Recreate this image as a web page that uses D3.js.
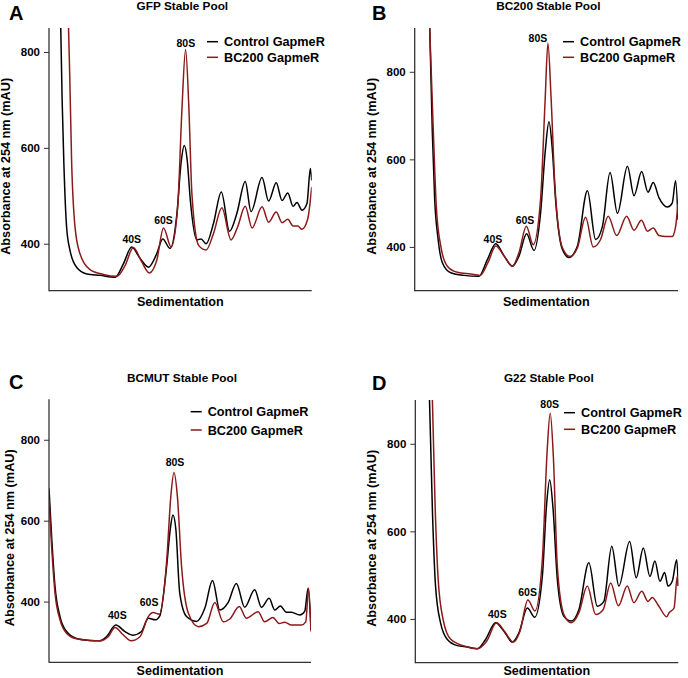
<!DOCTYPE html>
<html>
<head>
<meta charset="utf-8">
<script src="https://cdn.jsdelivr.net/npm/d3@7"></script>
<style>
  html, body { margin: 0; padding: 0; background: #fff; }
  svg { display: block; font-family: "Liberation Sans", Arial, sans-serif; font-weight: bold; }
</style>
</head>
<body>
<svg id="chart" width="688" height="678"></svg>
<script>
// ---------------- DATA (x = sedimentation position, % of gradient; y = absorbance, mAU) ----------------
const yTicks = [400, 600, 800];
const seriesNames = ["Control GapmeR", "BC200 GapmeR"];
const panelTitles = ["GFP Stable Pool", "BC200 Stable Pool", "BCMUT Stable Pool", "G22 Stable Pool"];
const panelLetters = ["A", "B", "C", "D"];
const peakNames = ["40S", "60S", "80S"];

const gfpControl = [[4.3,900],[5.0,700],[5.7,560],[6.7,435],[8.0,386],[10.5,351],[14.4,337],[19.4,334],[25.2,330],[28.3,358],[31.5,393],[34.7,369],[37.9,351],[41.0,379],[43.3,410],[46.1,390],[48.7,463],[50.3,570],[51.5,605],[52.6,575],[53.8,491],[56.3,408],[57.9,410],[59.8,400],[62.6,442],[65.6,508],[68.7,426],[71.5,463],[74.7,530],[76.9,467],[81.1,538],[83.6,489],[86.5,527],[88.7,490],[90.9,506],[92.9,478],[94.4,486],[96.3,470],[98.2,484],[99.5,557],[100,532]];
const gfpBC200 = [[7.2,900],[7.9,750],[8.6,574],[9.9,435],[11.8,379],[15.6,346],[20.7,336],[25.8,332],[29.0,355],[32.1,392],[35.3,362],[38.2,339],[41.0,365],[43.6,433],[46.5,393],[49.0,477],[50.6,680],[52.0,805],[53.2,690],[54.4,504],[57.0,396],[59.8,387],[62.6,421],[65.8,475],[69.3,408],[71.8,435],[74.7,478],[77.3,433],[81.1,477],[83.6,445],[86.5,466],[88.7,444],[90.9,451],[92.9,437],[94.7,437],[96.3,430],[98.5,452],[100,518]];
const gfpPeakLabels = [[31.5,409],[43.6,449],[52.1,818]];

const bc200Control = [[5.7,900],[6.7,660],[7.6,508],[8.9,417],[10.5,364],[13.7,341],[18.7,335],[24.4,333],[27.6,371],[30.8,407],[34.0,379],[37.1,356],[39.6,379],[42.5,430],[45.3,392],[47.8,477],[49.6,620],[51.0,686],[52.3,620],[53.5,508],[56.1,394],[58.6,376],[61.8,402],[65.6,528],[68.7,417],[71.3,447],[74.2,570],[77.0,477],[80.8,584],[83.3,517],[86.2,572],[88.6,525],[90.6,547],[92.8,512],[96.0,491],[97.8,500],[99.1,551],[100,462]];
const bc200BC200 = [[5.7,900],[7.1,660],[8.2,493],[9.9,402],[12.4,356],[16.2,342],[21.3,338],[24.8,335],[27.8,364],[30.8,402],[34.0,379],[37.1,356],[39.6,387],[42.4,447],[45.0,405],[47.8,508],[49.5,730],[50.6,865],[51.8,740],[53.2,546],[56.1,398],[59.0,378],[61.8,398],[64.9,468],[67.8,400],[70.6,417],[73.5,470],[76.7,426],[80.5,470],[83.3,438],[86.1,461],[88.4,436],[90.6,443],[92.8,426],[95.3,424],[97.8,424],[99.1,447],[100,500]];
const bc200PeakLabels = [[29.7,418],[41.9,461],[46.8,876]];

const bcmutControl = [[0,680],[1.0,561],[2.3,437],[4.2,363],[6.7,326],[10.5,309],[15.6,304],[19.4,303],[21.9,313],[25.5,342],[29.0,326],[32.1,317],[35.3,326],[37.9,359],[40.5,355],[42.3,365],[44.9,487],[46.3,580],[47.3,614],[48.4,580],[49.9,421],[52.5,363],[56.3,351],[59.5,384],[62.4,452],[65.2,379],[68.4,398],[71.5,445],[74.7,386],[78.5,429],[81.1,386],[84.0,408],[86.2,379],[88.3,389],[90.6,374],[92.5,374],[95.7,367],[97.6,376],[98.9,433],[100,330]];
const bcmutBC200 = [[0,651],[1.0,536],[2.3,421],[4.2,355],[6.7,322],[10.5,308],[15.6,304],[19.4,303],[22.6,313],[25.2,336],[28.3,318],[31.3,303],[34.7,313],[37.9,363],[39.8,373],[42.1,369],[44.9,499],[46.5,660],[47.7,719],[49.0,660],[50.6,487],[53.2,371],[57.0,338],[60.2,346],[63.3,398],[66.5,350],[69.0,357],[72.6,388],[75.3,359],[79.8,375],[82.3,350],[85.5,361],[87.8,346],[90.0,349],[92.5,342],[96.3,342],[98.0,350],[99.1,433],[100,326]];
const bcmutPeakLabels = [[26.1,367],[38.2,398],[48.1,745]];

const g22Control = [[5.4,900],[6.5,649],[7.7,475],[9.6,391],[12.2,353],[16.0,339],[19.8,336],[23.6,332],[26.7,353],[30.5,391],[33.7,372],[36.9,347],[39.4,368],[42.6,425],[45.4,404],[48.3,497],[49.9,660],[51.1,718],[52.4,650],[54.0,490],[56.5,406],[59.3,395],[62.2,421],[66.0,528],[69.2,429],[71.7,440],[74.7,566],[77.4,475],[81.5,577],[84.0,494],[86.7,562],[89.2,497],[91.1,532],[93.0,486],[94.8,506],[96.1,475],[97.7,486],[99.4,535],[100,475]];
const g22BC200 = [[6.5,900],[7.5,665],[8.7,490],[10.6,398],[13.4,354],[18.5,338],[23.6,332],[27.1,349],[30.9,391],[34.1,370],[37.3,347],[39.8,372],[42.8,443],[45.5,418],[48.3,535],[50.1,780],[51.3,870],[52.5,770],[54.0,520],[56.5,410],[59.3,391],[62.2,414],[65.4,475],[68.6,410],[71.4,421],[74.3,482],[77.2,430],[80.6,475],[83.1,437],[86.1,463],[88.5,440],[90.1,449],[92.6,429],[95.6,405],[96.5,414],[98.4,425],[99.6,497],[100,475]];
const g22PeakLabels = [[31.2,410],[42.7,462],[51.1,891]];

const yDomains = [[302, 850], [300, 900], [250, 900], [300, 900]];

// ---------------- LAYOUT ----------------
const colors = ["#000000", "#8B1A1A"];
const panels = [
  { ctrl: gfpControl,   bc: gfpBC200,   peaks: gfpPeakLabels,   box: {l: 49,    r: 311.7, t: 28,    b: 290.7}, legend: {x: 207, y: 41.7, dy: 15.6}, titleY: 10,  letterX: 9,   letterY: 19.5, yTitleX: 10,  xTitleY: 306 },
  { ctrl: bc200Control, bc: bc200BC200, peaks: bc200PeakLabels, box: {l: 414.7, r: 678,   t: 28,    b: 290.7}, legend: {x: 563, y: 41.7, dy: 15.6}, titleY: 10,  letterX: 372, letterY: 19.5, yTitleX: 376, xTitleY: 306 },
  { ctrl: bcmutControl, bc: bcmutBC200, peaks: bcmutPeakLabels, box: {l: 49,    r: 311,   t: 399.3, b: 662.3}, legend: {x: 190.7, y: 411.7, dy: 18.3}, titleY: 382, letterX: 9,   letterY: 388.5, yTitleX: 14,  xTitleY: 675 },
  { ctrl: g22Control,   bc: g22BC200,   peaks: g22PeakLabels,   box: {l: 415.3, r: 678.3, t: 400,   b: 662.7}, legend: {x: 564, y: 412.7, dy: 16.6}, titleY: 382, letterX: 372, letterY: 389.5, yTitleX: 376, xTitleY: 675 }
];

const svg = d3.select("#chart");

panels.forEach((p, i) => {
  const x = d3.scaleLinear().domain([0, 100]).range([p.box.l, p.box.r]);
  const y = d3.scaleLinear().domain(yDomains[i]).range([p.box.b, p.box.t]);
  const g = svg.append("g");

  const clipId = "clip" + i;
  svg.append("clipPath").attr("id", clipId)
    .append("rect")
    .attr("x", p.box.l).attr("y", p.box.t)
    .attr("width", p.box.r - p.box.l).attr("height", p.box.b - p.box.t);

  const line = d3.line().x(d => x(d[0])).y(d => y(d[1])).curve(d3.curveMonotoneX);

  // curves: control first, BC200 on top
  [p.ctrl, p.bc].forEach((data, k) => {
    g.append("path")
      .attr("d", line(data))
      .attr("fill", "none")
      .attr("stroke", colors[k])
      .attr("stroke-width", 1.5)
      .attr("stroke-linejoin", "round")
      .attr("clip-path", `url(#${clipId})`);
  });

  // axes
  const yAxis = d3.axisLeft(y).tickValues(yTicks).tickSize(5).tickPadding(4).tickFormat(d3.format("d"));
  const ya = g.append("g").attr("transform", `translate(${p.box.l},0)`).call(yAxis);
  ya.select(".domain").remove();
  ya.selectAll(".tick line").attr("stroke", "#333").attr("stroke-width", 1);
  ya.selectAll(".tick text").attr("fill", "#000").style("font-size", "11.5px").style("font-weight", "bold")
    .style("font-family", "'Liberation Sans', Arial, sans-serif");

  g.append("line").attr("x1", p.box.l).attr("x2", p.box.l).attr("y1", p.box.t).attr("y2", p.box.b + 0.5)
    .attr("stroke", "#333").attr("stroke-width", 1.3);
  g.append("line").attr("x1", p.box.l).attr("x2", p.box.r).attr("y1", p.box.b).attr("y2", p.box.b)
    .attr("stroke", "#333").attr("stroke-width", 1.3);

  // axis titles
  g.append("text")
    .attr("transform", `translate(${p.yTitleX},${(p.box.t + p.box.b) / 2 + 7}) rotate(-90)`)
    .attr("text-anchor", "middle")
    .style("font-size", "12.7px")
    .text("Absorbance at 254 nm (mAU)");
  g.append("text")
    .attr("x", (p.box.l + p.box.r) / 2)
    .attr("y", p.xTitleY)
    .attr("text-anchor", "middle")
    .style("font-size", "12.6px")
    .text("Sedimentation");

  // title
  g.append("text")
    .attr("x", (p.box.l + p.box.r) / 2 + 2)
    .attr("y", p.titleY)
    .attr("text-anchor", "middle")
    .style("font-size", "11.8px")
    .text(panelTitles[i]);

  // panel letter
  g.append("text")
    .attr("x", p.letterX)
    .attr("y", p.letterY)
    .style("font-size", "20px")
    .text(panelLetters[i]);

  // peak labels
  p.peaks.forEach((pk, j) => {
    g.append("text")
      .attr("x", x(pk[0]))
      .attr("y", y(pk[1]))
      .attr("dy", "0.36em")
      .attr("text-anchor", "middle")
      .style("font-size", "10.5px")
      .text(peakNames[j]);
  });

  // legend
  seriesNames.forEach((name, k) => {
    const ly = p.legend.y + k * p.legend.dy;
    g.append("line")
      .attr("x1", p.legend.x).attr("x2", p.legend.x + 11)
      .attr("y1", ly).attr("y2", ly)
      .attr("stroke", colors[k]).attr("stroke-width", 1.5);
    g.append("text")
      .attr("x", p.legend.x + 17)
      .attr("y", ly)
      .attr("dy", "0.36em")
      .style("font-size", "12.7px")
      .text(name);
  });
});
</script>
</body>
</html>
